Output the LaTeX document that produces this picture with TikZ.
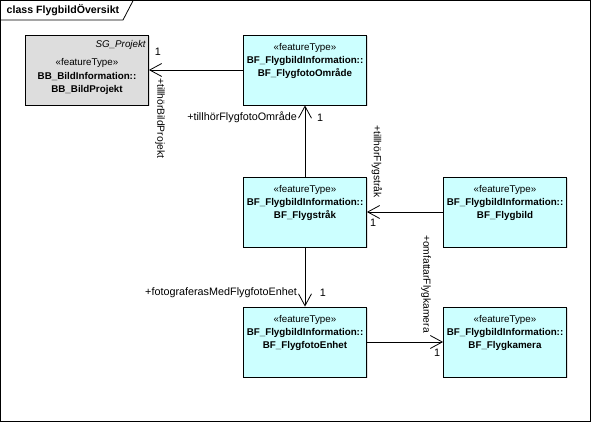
\documentclass[tikz,border=0pt]{standalone}
\usepackage{fontspec}
\setmainfont{Liberation Sans}
\usetikzlibrary{arrows.meta,shadows}
\definecolor{boxcyan}{RGB}{204,255,255}
\definecolor{boxgray}{RGB}{221,221,221}
\tikzset{
  umlbox/.style={draw=black, line width=0.8pt, minimum width=123pt, minimum height=70pt, inner sep=0pt,
    drop shadow={shadow xshift=1.5pt, shadow yshift=-1.5pt, opacity=0.25}},
  cyanbox/.style={umlbox, fill=boxcyan},
  graybox/.style={umlbox, fill=boxgray},
  boxtext/.style={anchor=north, align=center, inner sep=0pt, font=\fontsize{9.8}{13.3}\selectfont},
  lbl/.style={inner sep=0pt, font=\fontsize{10.8}{12}\selectfont},
  rlbl/.style={lbl, rotate=-90, anchor=west, font=\fontsize{10.3}{12}\selectfont},
  assoc/.style={draw=black, line width=0.8pt, -{Straight Barb[length=12pt,width=13pt,line width=0.8pt]}},
}
\begin{document}
\begin{tikzpicture}[x=1pt,y=1pt]
\useasboundingbox (0,0) rectangle (592,422);
% frame
\draw[line width=0.8pt] (0.8,0.8) rectangle (590.8,421.2);
\draw[line width=0.8pt] (0.8,402) -- (123,402) -- (133,421.2);
\node[anchor=west, inner sep=0pt, font=\fontsize{10.6}{12}\selectfont\bfseries] (title) at (6.5,411.5) {class FlygbildÖversikt};
% boxes
\node[graybox] (proj) at (87,352) {};
\node[cyanbox] (omr) at (305,352) {};
\node[cyanbox] (str) at (305,210) {};
\node[cyanbox] (bild) at (505,210) {};
\node[cyanbox] (enh) at (305,80) {};
\node[cyanbox] (kam) at (505,80) {};
% box texts
\node[anchor=north east, inner sep=0pt, font=\fontsize{9.8}{12}\selectfont\itshape] (projpkg) at ([xshift=-3pt,yshift=-5.5pt]proj.north east) {SG\_Projekt};
\node[boxtext] (projt) at ([yshift=-24pt]proj.north) {«featureType»\\\textbf{BB\_BildInformation::}\\\textbf{BB\_BildProjekt}};
\node[boxtext] (omrt) at ([yshift=-8.5pt]omr.north) {«featureType»\\\textbf{BF\_FlygbildInformation::}\\\textbf{BF\_FlygfotoOmråde}};
\node[boxtext] (strt) at ([yshift=-8.5pt]str.north) {«featureType»\\\textbf{BF\_FlygbildInformation::}\\\textbf{BF\_Flygstråk}};
\node[boxtext] (bildt) at ([yshift=-8.5pt]bild.north) {«featureType»\\\textbf{BF\_FlygbildInformation::}\\\textbf{BF\_Flygbild}};
\node[boxtext] (enht) at ([yshift=-8.5pt]enh.north) {«featureType»\\\textbf{BF\_FlygbildInformation::}\\\textbf{BF\_FlygfotoEnhet}};
\node[boxtext] (kamt) at ([yshift=-8.5pt]kam.north) {«featureType»\\\textbf{BF\_FlygbildInformation::}\\\textbf{BF\_Flygkamera}};
% connectors
\draw[assoc] (omr.west) -- (proj.east);
\draw[assoc] (str.north) -- (omr.south);
\draw[assoc] (bild.west) -- (str.east);
\draw[assoc] (str.south) -- (enh.north);
\draw[assoc] (enh.east) -- (kam.west);
% labels
\node[lbl] (m1) at (158,370) {1};
\node[rlbl] (r1) at (160,344) {+tillhörBildProjekt};
\node[lbl, anchor=east] (r2) at (297,304.5) {+tillhörFlygfotoOmråde};
\node[lbl] (m2) at (320,304.5) {1};
\node[rlbl] (r3) at (377,297) {+tillhörFlygstråk};
\node[lbl] (m3) at (373,199) {1};
\node[lbl, anchor=east] (r4) at (297,129) {+fotograferasMedFlygfotoEnhet};
\node[lbl] (m4) at (323,129) {1};
\node[rlbl] (r5) at (426,187) {+omfattarFlygkamera};
\node[lbl] (m5) at (437,69) {1};
\end{tikzpicture}
\end{document}
